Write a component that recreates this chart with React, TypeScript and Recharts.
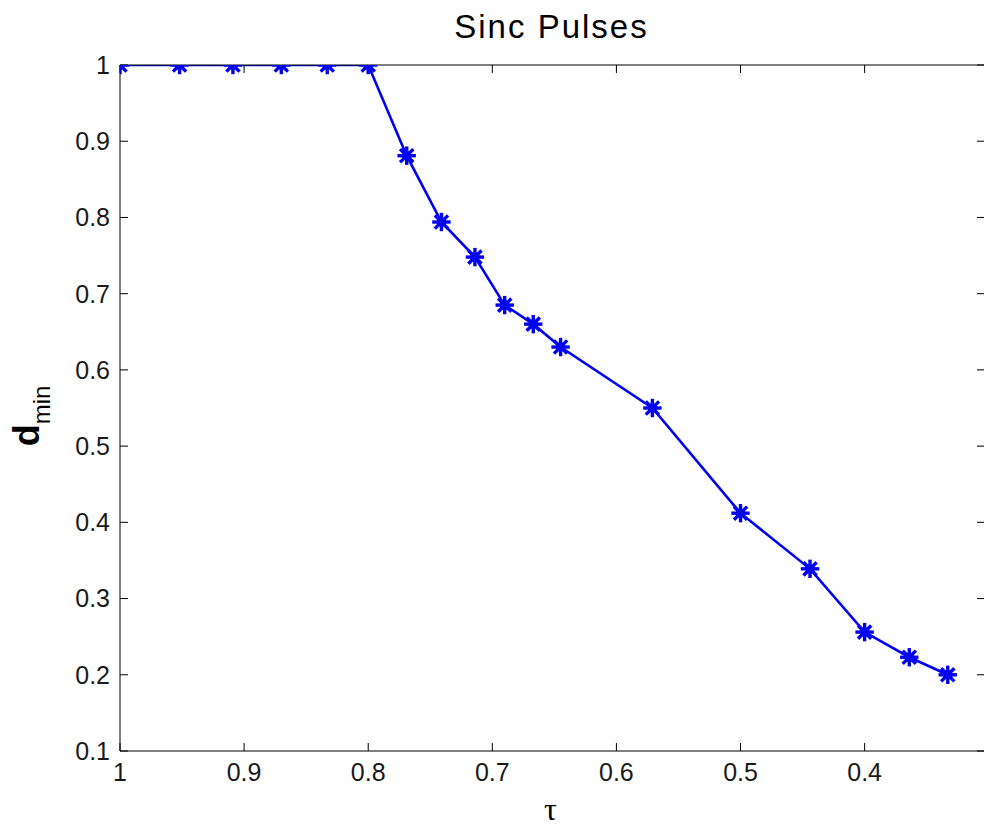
import React from 'react';
import { LineChart, Line, XAxis, YAxis } from 'recharts';

const tauValues = [1, 0.952, 0.909, 0.87, 0.833, 0.8, 0.769, 0.741, 0.714, 0.69, 0.667, 0.645, 0.571, 0.5, 0.444, 0.4, 0.364, 0.333];
const dminValues = [1, 1, 1, 1, 1, 1, 0.881, 0.794, 0.748, 0.685, 0.66, 0.63, 0.55, 0.412, 0.339, 0.256, 0.223, 0.2];
const xTicks = [1, 0.9, 0.8, 0.7, 0.6, 0.5, 0.4];
const yTicks = [0.1, 0.2, 0.3, 0.4, 0.5, 0.6, 0.7, 0.8, 0.9, 1];
const titleText = 'Sinc Pulses';
const xLabelText = 'τ';
const yLabelMain = 'd';
const yLabelSub = 'min';

const data = tauValues.map((t, i) => ({ tau: t, dmin: dminValues[i] }));

const BLUE = '#0000f2';
const tickFont = { fontFamily: 'Liberation Sans, Arial, sans-serif', fontSize: 25, fill: '#1a1a1a' };

const AsteriskDot = (props: any) => {
  const { cx, cy } = props;
  if (cx == null || cy == null) return null;
  const r = 7.5;
  const d = r * 0.72;
  return (
    <g stroke={BLUE} strokeWidth={3.4} strokeLinecap="square">
      <line x1={cx - r} y1={cy} x2={cx + r} y2={cy} />
      <line x1={cx} y1={cy - r} x2={cx} y2={cy + r} />
      <line x1={cx - d} y1={cy - d} x2={cx + d} y2={cy + d} />
      <line x1={cx - d} y1={cy + d} x2={cx + d} y2={cy - d} />
      <circle cx={cx} cy={cy} r={4.8} fill={BLUE} stroke="none" />
    </g>
  );
};

const TitleLabel = (props: any) => {
  const vb = props.viewBox || {};
  return (
    <text
      x={vb.x + vb.width / 2 - 1}
      y={vb.y - 25}
      textAnchor="middle"
      fontFamily="Liberation Sans, Arial, sans-serif"
      fontSize={33}
      letterSpacing={2}
      fill="#000"
    >
      {titleText}
    </text>
  );
};

const XLabel = (props: any) => {
  const vb = props.viewBox || {};
  return (
    <text
      x={vb.x + vb.width / 2 - 2}
      y={vb.y + 69}
      textAnchor="middle"
      fontFamily="Liberation Serif, Times New Roman, serif"
      fontSize={32}
      fill="#000"
    >
      {xLabelText}
    </text>
  );
};

const YLabel = (props: any) => {
  const vb = props.viewBox || {};
  const x = vb.x - 11;
  const y = vb.y + vb.height / 2 + 8;
  return (
    <text
      x={x}
      y={y}
      transform={`rotate(-90, ${x}, ${y})`}
      textAnchor="middle"
      fontFamily="Liberation Sans, Arial, sans-serif"
      fill="#000"
    >
      <tspan fontSize={36} fontWeight="bold">{yLabelMain}</tspan>
      <tspan fontSize={24} dy={11}>{yLabelSub}</tspan>
    </text>
  );
};

const EmptyTick = () => <g />;

export default function App() {
  return (
    <div style={{ width: 984, height: 828, overflow: 'hidden', background: '#fff' }}>
      <style>{'html, body { margin: 0; padding: 0; overflow: hidden; background: #fff; }'}</style>
      <LineChart
        width={1010}
        height={828}
        data={data}
        margin={{ top: 63, right: 22, left: 50, bottom: 17 }}
        style={{ background: '#fff' }}
      >
        <XAxis
          dataKey="tau"
          type="number"
          domain={[0.303, 1]}
          reversed
          ticks={xTicks}
          allowDataOverflow
          height={60}
          stroke="#000"
          tickSize={-8}
          tickMargin={20}
          tick={tickFont}
          tickFormatter={(v: number) => String(v)}
          label={<XLabel />}
        />
        <XAxis
          xAxisId="top"
          orientation="top"
          dataKey="tau"
          type="number"
          domain={[0.303, 1]}
          reversed
          ticks={xTicks}
          allowDataOverflow
          height={2}
          stroke="#000"
          tickSize={-8}
          tick={EmptyTick}
          label={<TitleLabel />}
        />
        <YAxis
          type="number"
          domain={[0.1, 1]}
          ticks={yTicks}
          allowDataOverflow
          width={70}
          stroke="#000"
          tickSize={-8}
          tickMargin={18}
          tick={tickFont}
          tickFormatter={(v: number) => String(v)}
          label={<YLabel />}
        />
        <YAxis
          yAxisId="right"
          orientation="right"
          type="number"
          domain={[0.1, 1]}
          ticks={yTicks}
          allowDataOverflow
          width={3}
          stroke="#000"
          tickSize={-8}
          tick={EmptyTick}
        />
        <Line
          type="linear"
          dataKey="dmin"
          stroke={BLUE}
          strokeWidth={2.6}
          dot={<AsteriskDot />}
          activeDot={false}
          isAnimationActive={false}
        />
      </LineChart>
    </div>
  );
}
